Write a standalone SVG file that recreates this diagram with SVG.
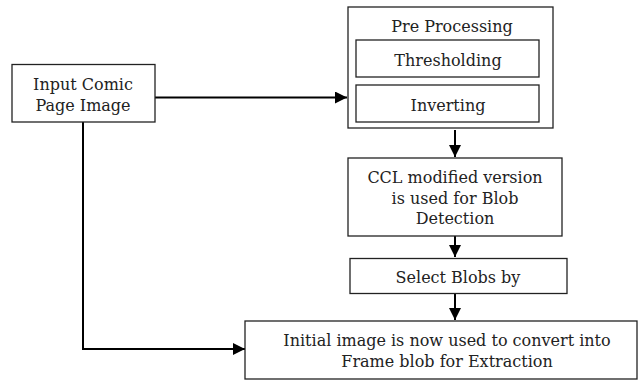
<svg xmlns="http://www.w3.org/2000/svg" width="640" height="381" viewBox="0 0 640 381">
<defs>
<marker id="ah" markerWidth="12" markerHeight="12" refX="12" refY="6" orient="auto" markerUnits="userSpaceOnUse">
<path d="M0,0 L12,6 L0,12 Z" fill="#000"/>
</marker>
<style>
.box{fill:#fff;stroke:#222;stroke-width:1.3}
.t{font-family:"DejaVu Serif","Liberation Serif",serif;font-size:16px;fill:#222;text-anchor:middle}
.c{fill:none;stroke:#000;stroke-width:2}
</style>
</defs>
<rect width="640" height="381" fill="#fff"/>
<g id="connectors">
<path class="c" d="M155,97.5 H347" marker-end="url(#ah)"/>
<path class="c" d="M455,130 V157" marker-end="url(#ah)"/>
<path class="c" d="M455,232 V257" marker-end="url(#ah)"/>
<path class="c" d="M455,294 V320" marker-end="url(#ah)"/>
<path class="c" d="M83,122 V349 H245" marker-end="url(#ah)"/>
</g>
<g id="input">
<rect class="box" x="12" y="64.5" width="143" height="57.5"/>
<text class="t" x="83" y="90">Input Comic</text>
<text class="t" x="83" y="111">Page Image</text>
</g>
<g id="preprocessing">
<rect class="box" x="348" y="7" width="205" height="121"/>
<text class="t" x="452" y="32">Pre Processing</text>
</g>
<g id="thresholding">
<rect class="box" x="356" y="40" width="183" height="37"/>
<text class="t" x="448" y="66">Thresholding</text>
</g>
<g id="inverting">
<rect class="box" x="356" y="85" width="183" height="37"/>
<text class="t" x="448" y="111">Inverting</text>
</g>
<g id="ccl">
<rect class="box" x="348" y="158" width="214" height="78"/>
<text class="t" x="455" y="183">CCL modified version</text>
<text class="t" x="455" y="203.5">is used for Blob</text>
<text class="t" x="455" y="224">Detection</text>
</g>
<g id="select">
<rect class="box" x="350" y="258.5" width="217" height="35"/>
<text class="t" x="458" y="283">Select Blobs by</text>
</g>
<g id="initial">
<rect class="box" x="245" y="321" width="392" height="58"/>
<text class="t" x="447" y="346">Initial image is now used to convert into</text>
<text class="t" x="447" y="367">Frame blob for Extraction</text>
</g>
</svg>
